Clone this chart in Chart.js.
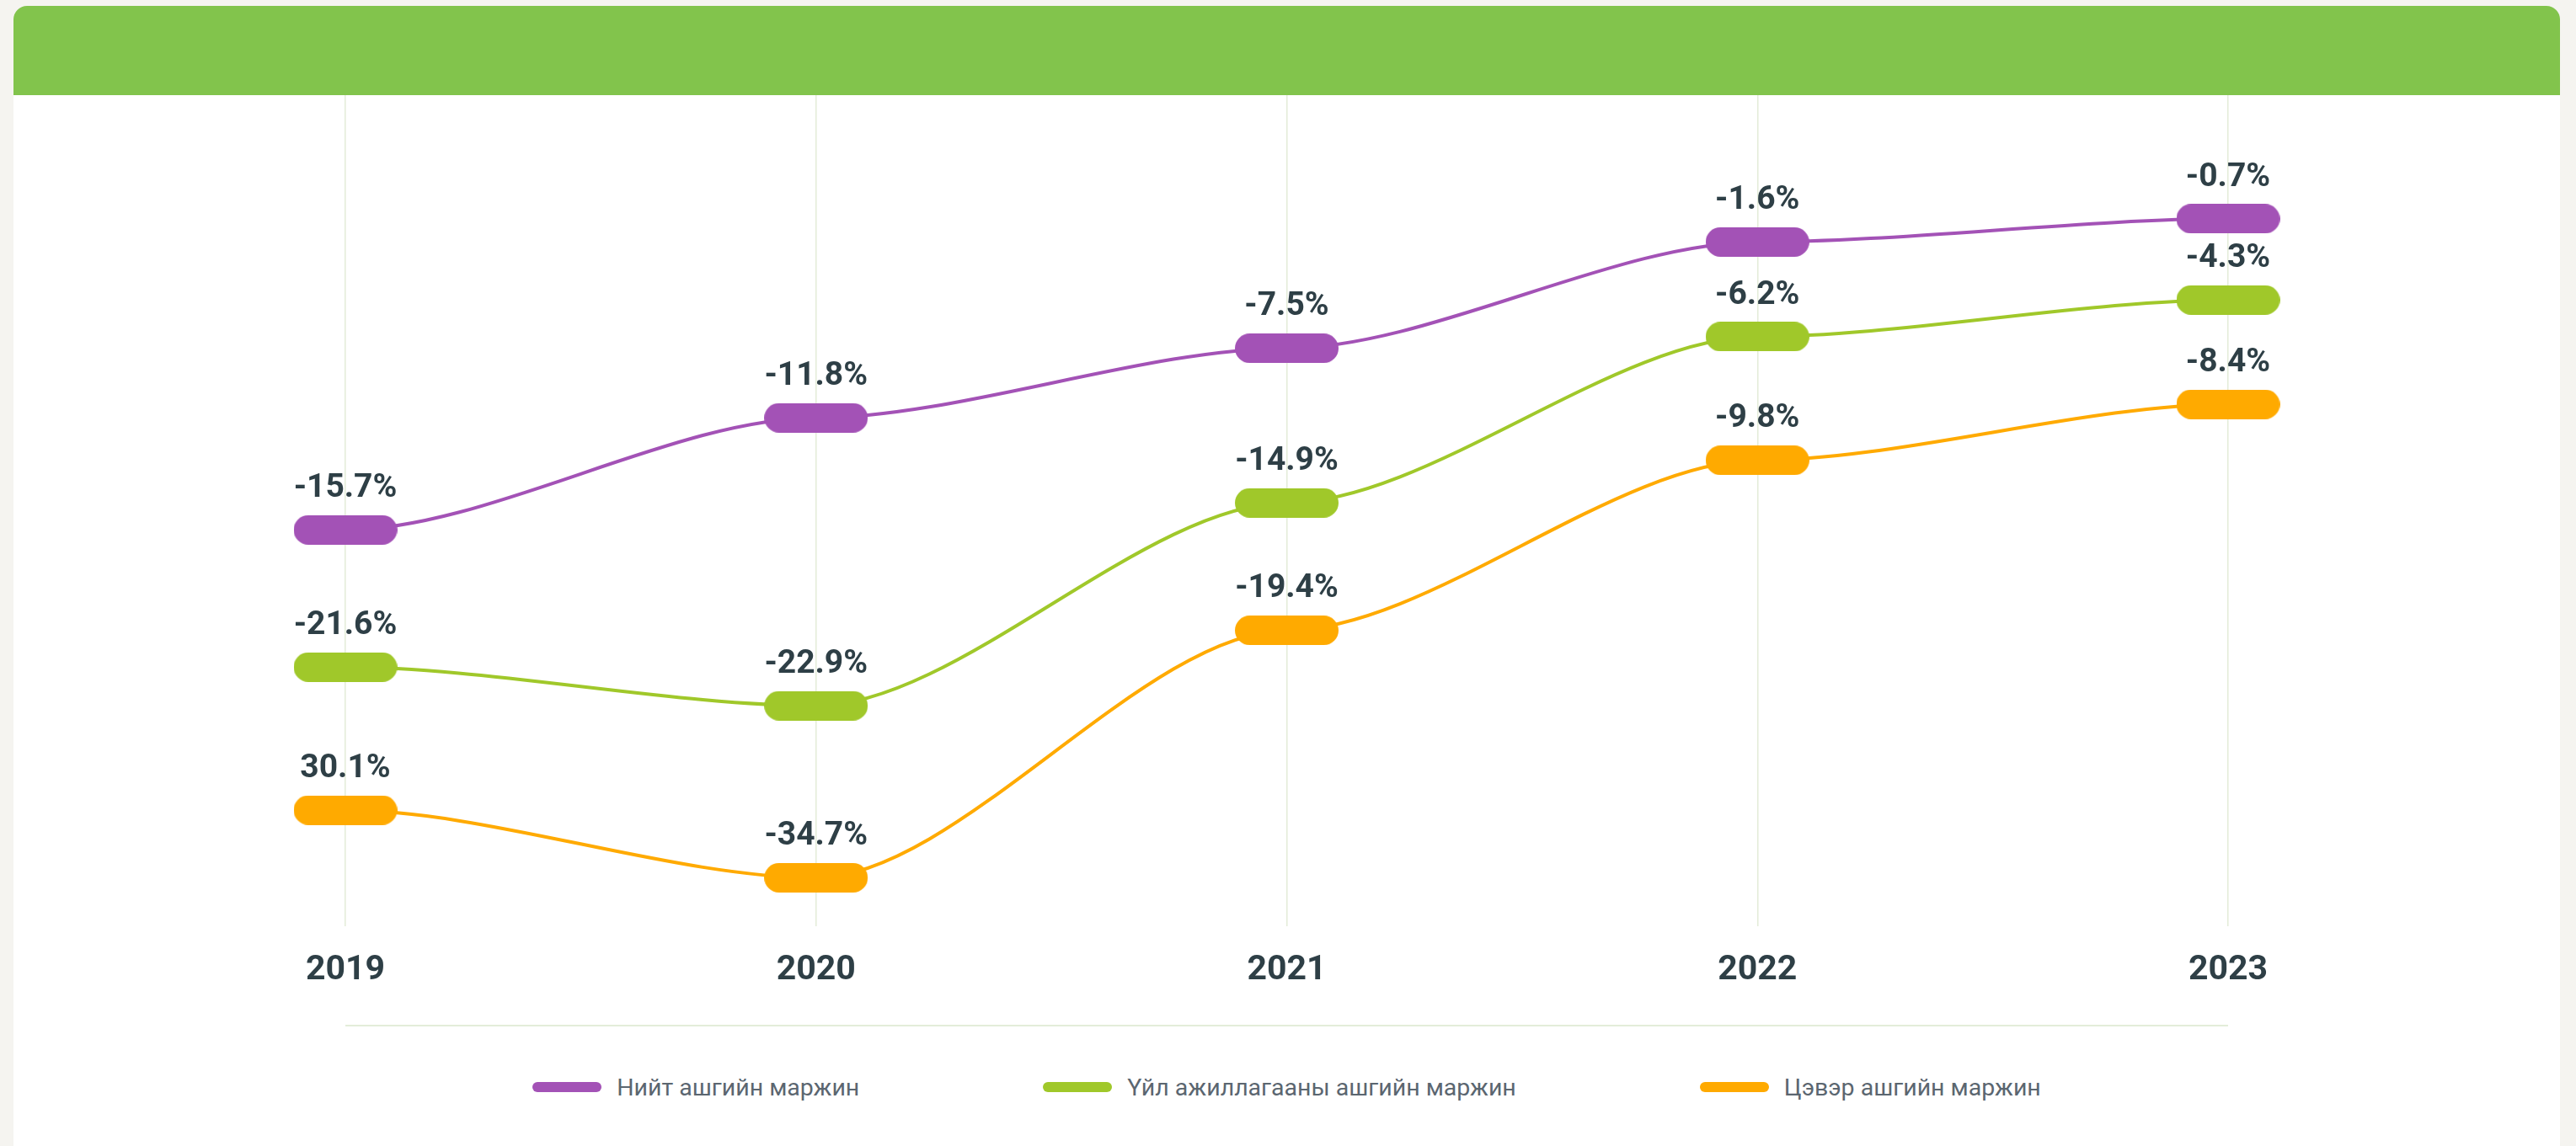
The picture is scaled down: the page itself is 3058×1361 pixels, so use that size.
<!DOCTYPE html>
<html>
<head>
<meta charset="utf-8">
<title>Ашгийн маржин</title>
<script src="https://cdn.jsdelivr.net/npm/chart.js@4.4.1/dist/chart.umd.min.js"></script>
<style>
  html, body { margin: 0; padding: 0; background: #f5f4f0; overflow: hidden; }
  .card {
    position: absolute; left: 16px; top: 7px;
    width: 3023px; height: 1420px;
    background: #fff;
    border-radius: 16px 16px 0 0;
  }
  .card-head {
    height: 106px; background: #82c44c;
    border-radius: 16px 16px 0 0;
  }
  .chart-box { position: absolute; left: 0; top: 106px; width: 3023px; height: 1140px; }
  .legend {
    position: absolute; left: 0; right: 0; top: 1266px; height: 36px;
    display: flex; justify-content: center; align-items: center; gap: 218px;
    font-family: Roboto, sans-serif; font-size: 28.5px; color: #5b6670;
  }
  .legend span.item { display: flex; align-items: center; }
  .legend i { display: inline-block; width: 82px; height: 12px; border-radius: 6px; margin-right: 18px; }
</style>
</head>
<body>
<div class="card">
  <div class="card-head"></div>
  <div class="chart-box"><canvas id="marginChart"></canvas></div>
  <div class="legend" id="marginLegend"></div>
</div>

<script>
// years on the x axis
var years = ['2019', '2020', '2021', '2022', '2023'];

// height of each pill
var grossLevel = [-16.5, -10.7, -7.1, -1.6, -0.4];
var operLevel = [-23.6, -25.6, -15.1, -6.5, -4.6];
var netLevel = [-31.0, -34.5, -21.7, -12.9, -10.0];

// numbers printed above the pills
var grossText = [-15.7, -11.8, -7.5, -1.6, -0.7];
var operText = [-21.6, -22.9, -14.9, -6.2, -4.3];
var netText = [30.1, -34.7, -19.4, -9.8, -8.4];

var names = ['Нийт ашгийн маржин', 'Үйл ажиллагааны ашгийн маржин', 'Цэвэр ашгийн маржин'];
var colors = ['#a352b6', '#a0c82a', '#ffaa00'];

// pill shaped marker
function pill(color) {
  var c = document.createElement('canvas');
  c.width = 123;
  c.height = 35;
  var g = c.getContext('2d');
  g.fillStyle = color;
  g.beginPath();
  g.roundRect(0, 0, 123, 35, 17.5);
  g.fill();
  return c;
}

function series(i, level, text) {
  return {
    label: names[i],
    data: level,
    shown: text,
    borderColor: colors[i],
    backgroundColor: colors[i],
    borderWidth: 4,
    cubicInterpolationMode: 'monotone',
    pointStyle: pill(colors[i]),
    pointRadius: 18,
    pointHoverRadius: 18,
    clip: false
  };
}

// curve leaves every pill flat (horizontal bezier handles)
var flatHandles = {
  id: 'flatHandles',
  beforeDatasetsDraw: function (chart) {
    chart.data.datasets.forEach(function (ds, i) {
      var meta = chart.getDatasetMeta(i);
      var pts = meta.data;
      meta.dataset.updateControlPoints(chart.chartArea, 'x');
      pts.forEach(function (p, j) {
        var prev = pts[j - 1], next = pts[j + 1];
        p.cp1x = prev ? p.x - (p.x - prev.x) * 0.3 : p.x;
        p.cp1y = p.y;
        p.cp2x = next ? p.x + (next.x - p.x) * 0.3 : p.x;
        p.cp2y = p.y;
      });
      meta.dataset._path = undefined;
    });
  }
};

var valueLabels = {
  id: 'valueLabels',
  afterDatasetsDraw: function (chart) {
    var ctx = chart.ctx;
    ctx.save();
    ctx.font = '700 39px Roboto';
    ctx.fillStyle = '#2e3f46';
    ctx.textAlign = 'center';
    ctx.textBaseline = 'middle';
    chart.data.datasets.forEach(function (ds, i) {
      chart.getDatasetMeta(i).data.forEach(function (pt, j) {
        ctx.fillText(ds.shown[j] + '%', pt.x, pt.y - 49);
      });
    });
    ctx.restore();
  }
};

// thin rule under the year labels
var baseRule = {
  id: 'baseRule',
  afterDraw: function (chart) {
    var ctx = chart.ctx, a = chart.chartArea;
    var y = chart.scales.x.bottom + 13;
    ctx.save();
    ctx.strokeStyle = '#e3edd9';
    ctx.lineWidth = 2;
    ctx.beginPath();
    ctx.moveTo(a.left, y);
    ctx.lineTo(a.right, y);
    ctx.stroke();
    ctx.restore();
  }
};

Chart.defaults.font.family = 'Roboto';

var ctx = document.getElementById('marginChart');
var marginChart = new Chart(ctx, {
  type: 'line',
  data: {
    labels: years,
    datasets: [
      series(0, grossLevel, grossText),
      series(1, operLevel, operText),
      series(2, netLevel, netText)
    ]
  },
  options: {
    responsive: true,
    maintainAspectRatio: false,
    animation: false,
    events: [],
    layout: {
      autoPadding: false,
      padding: { left: 394, right: 394, top: 0, bottom: 48 }
    },
    plugins: {
      legend: { display: false },
      tooltip: { enabled: false }
    },
    scales: {
      x: {
        offset: false,
        grid: { color: '#e3ecd8', lineWidth: 1.5, drawTicks: false },
        border: { display: false },
        ticks: {
          padding: 28,
          color: '#2e3f46',
          font: { size: 41, weight: '700' }
        }
      },
      y: {
        display: false,
        min: -37,
        max: 6
      }
    }
  },
  plugins: [flatHandles, valueLabels, baseRule]
});

// legend built from the datasets
var box = document.getElementById('marginLegend');
marginChart.data.datasets.forEach(function (ds) {
  var item = document.createElement('span');
  item.className = 'item';
  var sw = document.createElement('i');
  sw.style.background = ds.borderColor;
  item.appendChild(sw);
  item.appendChild(document.createTextNode(ds.label));
  box.appendChild(item);
});
</script>
</body>
</html>
